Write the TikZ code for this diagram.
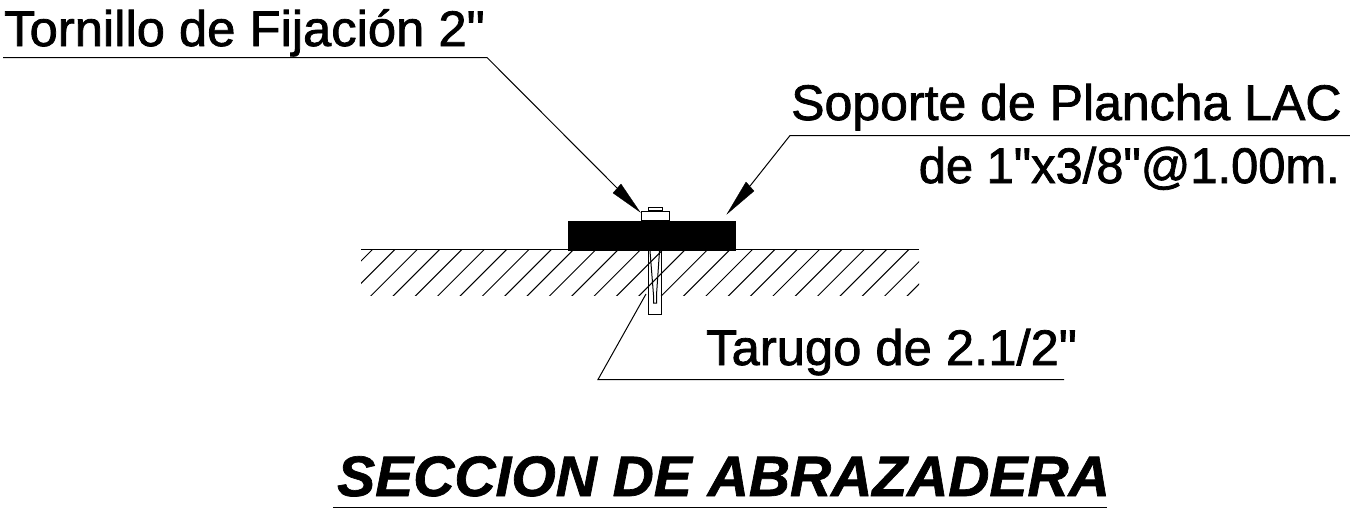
\documentclass[tikz,border=0pt]{standalone}
\usepackage{fontspec}
\setmainfont{Liberation Sans}
\newfontfamily\lblfont[FakeBold=1.5]{Liberation Sans}
\newfontfamily\ttlfont[BoldItalicFeatures={FakeBold=1.2}]{Liberation Sans}
\tikzset{
 x=1pt,y=-1pt,
 lbl/.style={inner sep=0pt,font=\lblfont\fontsize{50}{50}\selectfont,anchor=base west},
 ttl/.style={inner sep=0pt,font=\ttlfont\fontsize{57}{57}\selectfont\bfseries\itshape,anchor=base west},
 thin line/.style={line width=1pt,black},
 tip/.style={fill=black,draw=black,line width=0.3pt},
}
\begin{document}
\begin{tikzpicture}
\useasboundingbox (0,0) rectangle (1350,509);
% hatch
\begin{scope}
\clip (361,249) rectangle (919,295);
\foreach \k in {0,...,30}{
  \draw[thin line] ({373-22.35+22.35*\k},249) -- ({373-22.35+22.35*\k-60},309);
}
\end{scope}
\coordinate (gl) at (361,249.5); \coordinate (gr) at (919,249.5);
\draw[line width=1.4pt] (gl) -- (gr);
% plate
\node[fill=black,inner sep=0pt,minimum width=168pt,minimum height=30pt,anchor=north west] (plate) at (568,221) {};
% screw
\node[draw,fill=white,line width=1pt,inner sep=0pt,minimum width=14pt,minimum height=3pt,anchor=south] (head) at (655,211) {};
\node[draw,fill=white,line width=1pt,inner sep=0pt,minimum width=28pt,minimum height=9pt,anchor=north] (washer) at (655.3,211) {};
% tarugo
\node[draw,fill=none,line width=1pt,inner sep=0pt,minimum width=13pt,minimum height=64pt,anchor=north] (tarugo) at (654.5,250) {};
\draw[thin line] (650,251) -- (653.5,295) -- (653.5,303) -- (656.5,303) -- (656.5,295) -- (659.5,251);
% labels
\node[lbl] (t1) at (4,46) {\scalebox{1.015}[1]{Tornillo de Fijación 2"}};
\node[lbl] (t2) at (791,120) {Soporte de Plancha LAC};
\node[lbl,anchor=base east] (t3) at (1340,183) {\scalebox{0.977}[1]{de 1"x3/8"@1.00m.}};
\node[lbl] (t4) at (706,365) {\scalebox{1.015}[1]{Tarugo de 2.1/2"}};
\node[ttl] (t5) at (337,496) {SECCION DE ABRAZADERA};
% leaders
\coordinate (a0) at (3,57.5); \coordinate (a1) at (487,57.5); \coordinate (a2) at (640,212);
\coordinate (a3) at (621,184); \coordinate (a4) at (613,193);
\draw[thin line] (a0) -- (a1) -- (617,188);
\fill[tip] (a2) -- (a3) -- (a4) -- cycle;
\coordinate (b0) at (1350,135.5); \coordinate (b1) at (790,135.5); \coordinate (b2) at (727,214);
\coordinate (b3) at (746,182); \coordinate (b4) at (754,191);
\draw[thin line] (b0) -- (b1) -- (750,186);
\fill[tip] (b2) -- (b3) -- (b4) -- cycle;
\coordinate (c0) at (1064,379.5); \coordinate (c1) at (598,379.5); \coordinate (c2) at (646,294);
\draw[thin line] (c0) -- (c1) -- (c2);
\coordinate (u0) at (333,507.5); \coordinate (u1) at (1107,507.5);
\draw[thin line] (u0) -- (u1);
\end{tikzpicture}
\end{document}
